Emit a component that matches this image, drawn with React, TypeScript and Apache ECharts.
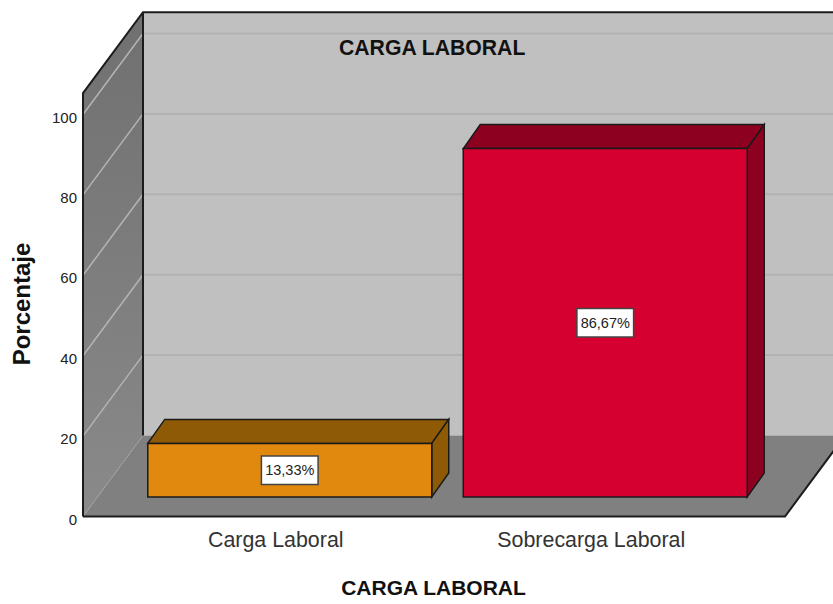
import React, { useEffect, useRef } from "react";
import * as echarts from "echarts";

const categories = ["Carga Laboral", "Sobrecarga Laboral"];
const percentages = [13.33, 86.67];
const percentLabels = ["13,33%", "86,67%"];
const tickValues = [20, 40, 60, 80, 100];
const chartTitle = "CARGA LABORAL";
const xAxisTitle = "CARGA LABORAL";
const yAxisTitle = "Porcentaje";
const faceColors = ["#e0890e", "#d50030"];
const sideColors = ["#8f5a06", "#8d0020"];
const FONT = '"Liberation Sans", Arial, sans-serif';
const WALL_TOP_VALUE = 105.3;

export default function App() {
  const ref = useRef<HTMLDivElement>(null);
  useEffect(() => {
    document.body.style.margin = "0";
    const chart = echarts.init(ref.current!, null, { renderer: "svg" });
    const D = { x: 60, y: -81 };
    const edge = { stroke: "#1c1c1c", lineWidth: 2 };
    chart.setOption({
      animation: false,
      backgroundColor: "#ffffff",
      title: {
        text: chartTitle,
        left: 334,
        top: 32,
        textStyle: { fontFamily: FONT, fontSize: 21.2, fontWeight: "bold", color: "#111" },
      },
      grid: { left: 118, width: 631, top: 114.5, height: 402 },
      xAxis: {
        type: "category",
        data: categories,
        axisLine: { show: false },
        axisTick: { show: false },
        axisLabel: { fontFamily: FONT, fontSize: 21.4, color: "#333", margin: 13 },
        name: xAxisTitle,
        nameLocation: "middle",
        nameGap: 60,
        nameTextStyle: { fontFamily: FONT, fontSize: 21, fontWeight: "bold", color: "#111" },
      },
      yAxis: {
        type: "value",
        min: 0,
        max: 100,
        interval: 20,
        offset: 35,
        axisLine: { show: false },
        axisTick: { show: false },
        splitLine: { show: false },
        axisLabel: { fontFamily: FONT, fontSize: 15, color: "#222", margin: 6, verticalAlign: "top", lineHeight: 5 },
        name: yAxisTitle,
        nameLocation: "middle",
        nameGap: 50,
        nameRotate: 90,
        nameTextStyle: { fontFamily: FONT, fontSize: 24, fontWeight: "bold", color: "#111", padding: [0, 0, 0, 23] },
      },
      series: [
        {
          type: "custom",
          z: 1,
          silent: true,
          data: [[0, 0]],
          encode: { x: 0, y: 1 },
          renderItem: (params: any, api: any) => {
            const cs = params.coordSys;
            const fl = cs.x - 35;
            const fr = cs.x + cs.width + 36;
            const y0 = api.coord([0, 0])[1];
            const yTop = api.coord([0, WALL_TOP_VALUE])[1];
            const bl = fl + D.x;
            const children: any[] = [
              { type: "rect", shape: { x: bl, y: yTop + D.y, width: 833 - bl, height: y0 - yTop }, style: { fill: "#c0c0c0" } },
              {
                type: "polygon",
                shape: { points: [[fl, yTop], [bl, yTop + D.y], [bl, y0 + D.y], [fl, y0]] },
                style: {
                  fill: {
                    type: "linear", x: 0, y: 0, x2: 0, y2: 1,
                    colorStops: [{ offset: 0, color: "#707070" }, { offset: 1, color: "#8a8a8a" }],
                  },
                },
              },
              {
                type: "polygon",
                shape: { points: [[fl, y0], [fr, y0], [fr + D.x, y0 + D.y], [bl, y0 + D.y]] },
                style: { fill: "#808080" },
              },
            ];
            tickValues.forEach((v) => {
              const y = api.coord([0, v])[1];
              children.push(
                { type: "line", shape: { x1: bl, y1: y + D.y, x2: 833, y2: y + D.y }, style: { stroke: "#b2b2b2", lineWidth: 2 } },
                { type: "line", shape: { x1: fl, y1: y, x2: bl, y2: y + D.y }, style: { stroke: "#b4b4b4", lineWidth: 1.5 } },
              );
            });
            children.push(
              { type: "line", shape: { x1: fl, y1: y0, x2: bl, y2: y0 + D.y }, style: { stroke: "#a8a8a8", lineWidth: 1, lineDash: [2, 2] } },
              { type: "polyline", shape: { points: [[fl, y0], [fl, yTop], [bl, yTop + D.y], [833, yTop + D.y]] }, style: { ...edge, fill: "none" } },
              { type: "line", shape: { x1: bl, y1: yTop + D.y, x2: bl, y2: y0 + D.y }, style: edge },
              { type: "polyline", shape: { points: [[fl, y0], [fr, y0], [fr + D.x, y0 + D.y]] }, style: { ...edge, fill: "none" } },
            );
            return { type: "group", children };
          },
        },
        {
          type: "custom",
          z: 2,
          silent: true,
          data: percentages.map((v, i) => [i, v]),
          encode: { x: 0, y: 1 },
          renderItem: (params: any, api: any) => {
            const i = api.value(0);
            const v = api.value(1);
            const [cx, yBase] = api.coord([i, 0]);
            const yVal = api.coord([i, v])[1];
            const w = 284;
            const x0 = cx + 14 - w / 2;
            const x1 = x0 + w;
            const b = yBase - 19.5;
            const t = yVal - 19.5;
            const dx = 17;
            const dy = -24;
            const line = { stroke: "#1a1a1a", lineWidth: 1.5, lineJoin: "miter" };
            return {
              type: "group",
              children: [
                { type: "polygon", shape: { points: [[x0, t], [x0 + dx, t + dy], [x1 + dx, t + dy], [x1, t]] }, style: { fill: sideColors[i], ...line } },
                { type: "polygon", shape: { points: [[x1, t], [x1 + dx, t + dy], [x1 + dx, b + dy], [x1, b]] }, style: { fill: sideColors[i], ...line } },
                { type: "rect", shape: { x: x0, y: t, width: w, height: b - t }, style: { fill: faceColors[i], ...line } },
                {
                  type: "text",
                  style: {
                    x: (x0 + x1) / 2,
                    y: (t + b) / 2,
                    text: percentLabels[i],
                    align: "center",
                    verticalAlign: "middle",
                    fontFamily: FONT,
                    fontSize: 14.5,
                    fill: "#222",
                    backgroundColor: "#ffffff",
                    borderColor: "#444",
                    borderWidth: 1.5,
                    padding: [6, 3, 6, 3],
                  },
                },
              ],
            };
          },
        },
      ],
    });
    return () => chart.dispose();
  }, []);
  return <div ref={ref} style={{ width: 833, height: 604 }} />;
}
